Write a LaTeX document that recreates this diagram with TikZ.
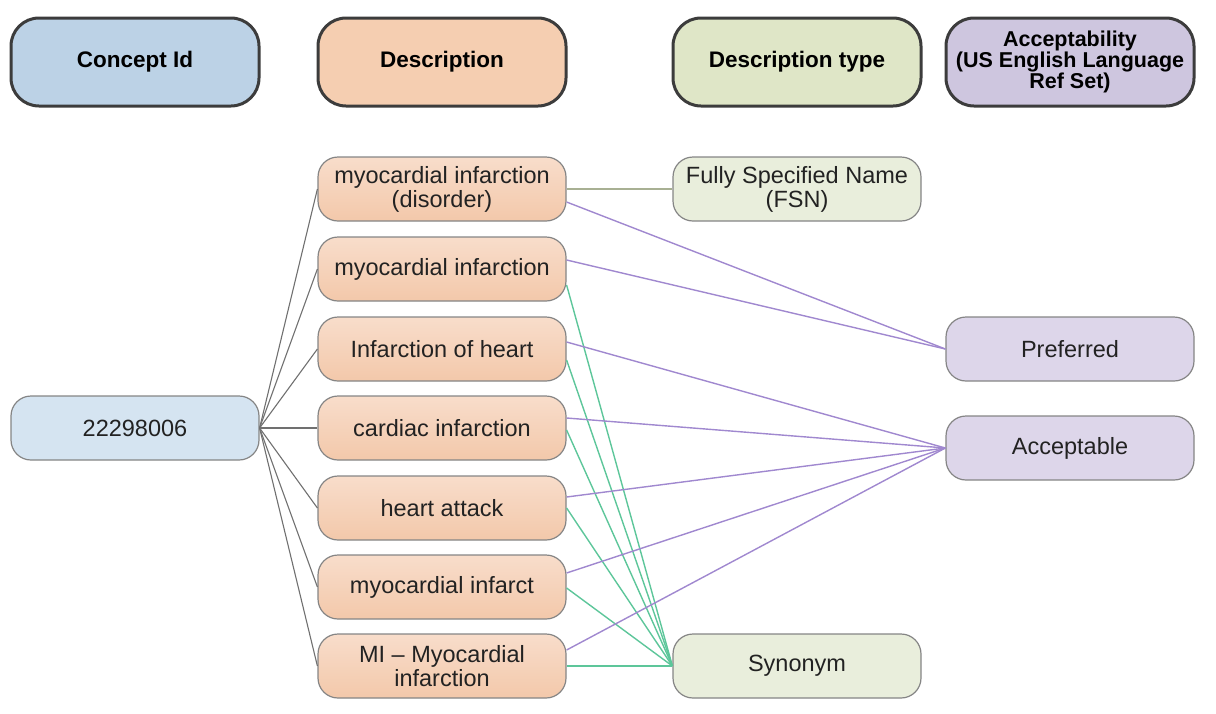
\documentclass[tikz,border=0pt]{standalone}
\usepackage{fontspec}
\setmainfont{Liberation Sans}
\usetikzlibrary{calc}
\definecolor{hdrline}{HTML}{3C3C3C}
\definecolor{bodyline}{HTML}{858585}
\definecolor{cidH}{HTML}{BCD2E6}
\definecolor{descH}{HTML}{F5CEB1}
\definecolor{typeH}{HTML}{DFE6C7}
\definecolor{accH}{HTML}{CEC6DF}
\definecolor{cidB}{HTML}{D5E4F1}
\definecolor{descT}{HTML}{F8DDCB}
\definecolor{descB}{HTML}{F3C8AA}
\definecolor{typeB}{HTML}{E9EEDC}
\definecolor{accB}{HTML}{DDD6EA}
\definecolor{grayln}{HTML}{707070}
\definecolor{fsnln}{HTML}{A8B093}
\definecolor{greenln}{HTML}{5DC69A}
\definecolor{purpln}{HTML}{A088CF}
\definecolor{txt}{HTML}{222222}
\begin{document}
\begin{tikzpicture}[x=1pt,y=-1pt,
  hdr/.style={draw=hdrline, line width=3pt, rounded corners=28pt, minimum width=248pt,
    minimum height=88pt, font=\fontsize{22.5}{20}\selectfont\bfseries, align=center,
    inner sep=0pt, text=black},
  body/.style={draw=bodyline, line width=1.2pt, rounded corners=20pt, minimum width=248pt,
    minimum height=64pt, font=\fontsize{23.5}{24}\selectfont, align=center,
    inner sep=0pt, text=txt},
  desc/.style={body, top color=descT, bottom color=descB},
  gl/.style={grayln, line width=1.1pt},
  fl/.style={fsnln, line width=1.6pt},
  grl/.style={greenln, line width=1.4pt},
  pl/.style={purpln, line width=1.4pt}
]
\useasboundingbox (0,0) rectangle (1216,713);
% headers
\node[hdr, fill=cidH] (hc) at (135,62) {Concept Id};
\node[hdr, fill=descH] (hd) at (442,62) {Description};
\node[hdr, fill=typeH] (ht) at (797,62) {Description type};
\node[hdr, fill=accH, font=\fontsize{21.5}{19.5}\selectfont\bfseries] (ha) at (1070,62) {Acceptability\\(US English Language\\Ref Set)};
% body
\node[body, fill=cidB] (c) at (135,428) {22298006};
\node[desc] (d1) at (442,189) {myocardial infarction\\(disorder)};
\node[desc] (d2) at (442,269) {myocardial infarction};
\node[desc] (d3) at (442,349) {Infarction of heart};
\node[desc] (d4) at (442,428) {cardiac infarction};
\node[desc] (d5) at (442,508) {heart attack};
\node[desc] (d6) at (442,587) {myocardial infarct};
\node[desc] (d7) at (442,666) {MI -- Myocardial\\infarction};
\node[body, fill=typeB] (fsn) at (797,189) {Fully Specified Name\\(FSN)};
\node[body, fill=typeB] (syn) at (797,666) {Synonym};
\node[body, fill=accB] (pref) at (1070,349) {Preferred};
\node[body, fill=accB] (acc) at (1070,448) {Acceptable};
% concept to descriptions
\foreach \d in {d1,d2,d3,d4,d5,d6,d7}{
  \draw[gl] (c.east) -- (\d.west);
}
% FSN
\draw[fl] (d1.east) -- (fsn.west);
% synonyms
\draw[grl] ($(d2.east)+(0,16)$) -- (syn.west);
\draw[grl] ($(d3.east)+(0,11)$) -- (syn.west);
\draw[grl] ($(d4.east)+(0,2)$) -- (syn.west);
\draw[grl] ($(d5.east)+(0,0)$) -- (syn.west);
\draw[grl] ($(d6.east)+(0,1)$) -- (syn.west);
\draw[grl] (d7.east) -- (syn.west);
% acceptability
\draw[pl] ($(d1.east)+(0,13)$) -- (pref.west);
\draw[pl] ($(d2.east)+(0,-9)$) -- (pref.west);
\draw[pl] ($(d3.east)+(0,-7)$) -- (acc.west);
\draw[pl] ($(d4.east)+(0,-10)$) -- (acc.west);
\draw[pl] ($(d5.east)+(0,-11)$) -- (acc.west);
\draw[pl] ($(d6.east)+(0,-14)$) -- (acc.west);
\draw[pl] ($(d7.east)+(0,-16)$) -- (acc.west);
\end{tikzpicture}
\end{document}
